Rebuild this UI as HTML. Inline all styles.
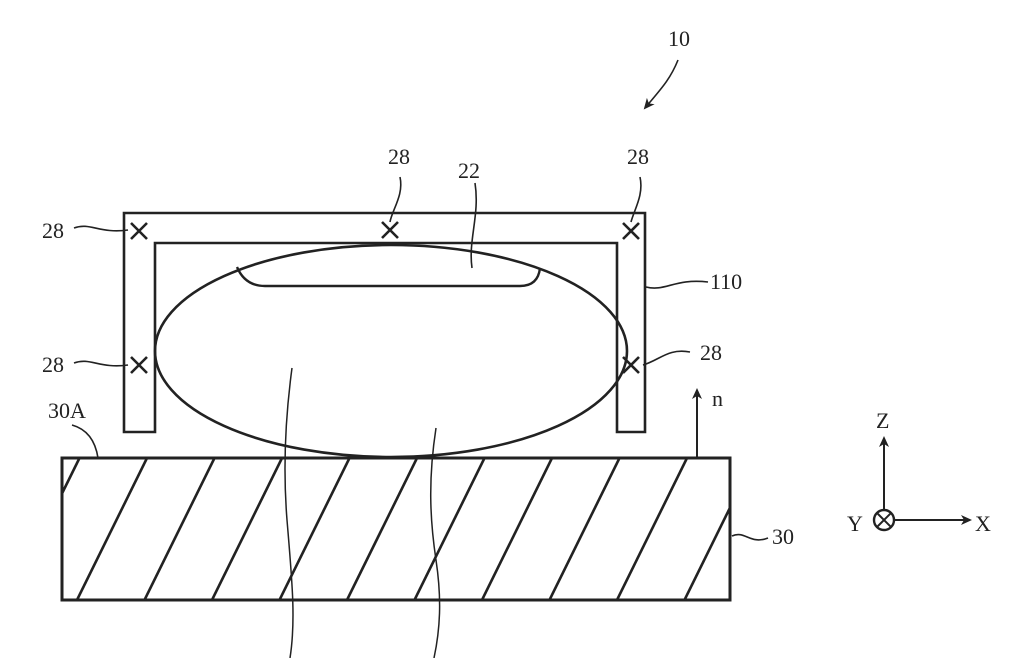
<!DOCTYPE html>
<html><head><style>
html,body{margin:0;padding:0;background:#fff;}
svg{display:block;}
text{font-family:"Liberation Serif",serif;font-size:22px;fill:#222;}
</style></head><body>
<svg width="1024" height="658" viewBox="0 0 1024 658" xmlns="http://www.w3.org/2000/svg">
<defs>
<clipPath id="c"><rect x="62" y="458" width="668" height="142"/></clipPath>
<marker id="a" markerWidth="12" markerHeight="12" refX="9" refY="6" orient="auto" markerUnits="userSpaceOnUse"><path d="M0,1 L11,6 L0,11 L3,6Z" fill="#222"/></marker>
</defs>
<g fill="none" stroke="#222" stroke-width="2.4">
<path d="M124,213 H645 V432 H617 V243 H155 V432 H124 Z" stroke-width="2.6"/>
<ellipse cx="391" cy="351" rx="236" ry="106" stroke-width="2.6"/>
<path d="M237,267 Q245,286 265,286 H520 Q538,286 540,268"/>
<rect x="62" y="458" width="668" height="142" stroke-width="3"/>
<g clip-path="url(#c)" stroke-width="2.6">
<line x1="9.5" y1="600" x2="79.5" y2="458"/><line x1="77" y1="600" x2="147" y2="458"/>
<line x1="144.5" y1="600" x2="214.5" y2="458"/><line x1="212" y1="600" x2="282" y2="458"/>
<line x1="279.5" y1="600" x2="349.5" y2="458"/><line x1="347" y1="600" x2="417" y2="458"/>
<line x1="414.5" y1="600" x2="484.5" y2="458"/><line x1="482" y1="600" x2="552" y2="458"/>
<line x1="549.5" y1="600" x2="619.5" y2="458"/><line x1="617" y1="600" x2="687" y2="458"/>
<line x1="684.5" y1="600" x2="754.5" y2="458"/><line x1="752" y1="600" x2="822" y2="458"/>
</g>
<path d="M292,368 C285,420 283,470 287,520 C292,580 296,620 290,658" stroke-width="1.5"/>
<path d="M436,428 C428,480 430,520 436,560 C442,600 440,630 434,658" stroke-width="1.5"/>
<g stroke-width="2.6">
<path d="M131,223 L147,239 M147,223 L131,239"/>
<path d="M382,222 L398,238 M398,222 L382,238"/>
<path d="M623,223 L639,239 M639,223 L623,239"/>
<path d="M131,357 L147,373 M147,357 L131,373"/>
<path d="M623,357 L639,373 M639,357 L623,373"/>
</g>
<g stroke-width="1.6">
<path d="M74,228 C90,222 100,234 128,230"/>
<path d="M74,363 C90,357 100,369 128,365"/>
<path d="M643,365 C660,360 668,348 690,352"/>
<path d="M646,287 C665,292 675,278 708,282"/>
<path d="M400,177 C404,195 392,210 390,222"/>
<path d="M640,177 C644,195 634,210 631,222"/>
<path d="M475,183 C480,215 468,240 472,268"/>
<path d="M72,425 C90,430 96,445 98,458"/>
<path d="M732,536 C745,530 750,545 768,538"/>
<path d="M678,60 C670,80 660,90 645,108" marker-end="url(#a)"/>
</g>
<line x1="697" y1="458" x2="697" y2="390" marker-end="url(#a)" stroke-width="2"/>
<line x1="884" y1="510" x2="884" y2="438" marker-end="url(#a)" stroke-width="2"/>
<line x1="895" y1="520" x2="970" y2="520" marker-end="url(#a)" stroke-width="2"/>
<circle cx="884" cy="520" r="10" stroke-width="2.4"/>
<path d="M877,513 L891,527 M891,513 L877,527" stroke-width="2"/>
</g>
<text x="668" y="46">10</text>
<text x="388" y="164">28</text>
<text x="627" y="164">28</text>
<text x="458" y="178">22</text>
<text x="42" y="238">28</text>
<text x="42" y="372">28</text>
<text x="700" y="360">28</text>
<text x="710" y="289">110</text>
<text x="48" y="418">30A</text>
<text x="712" y="406">n</text>
<text x="772" y="544">30</text>
<text x="876" y="428">Z</text>
<text x="847" y="531">Y</text>
<text x="975" y="531">X</text>
</svg>
</body></html>
